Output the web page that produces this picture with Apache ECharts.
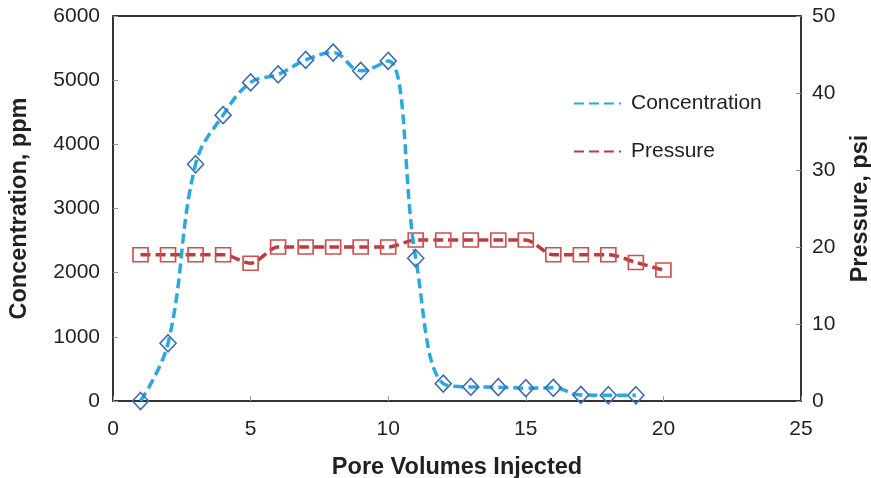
<!DOCTYPE html>
<html><head><meta charset="utf-8">
<script src="https://cdn.jsdelivr.net/npm/echarts@6/dist/echarts.min.js"></script>
<style>html,body{margin:0;padding:0;background:#fff;overflow:hidden}#c{width:871px;height:478px}</style>
</head><body><div id="c"></div>
<script>
const poreVolumes = [1,2,3,4,5,6,7,8,9,10,11,12,13,14,15,16,17,18,19,20];
const concentration = [0,900,3690,4455,4965,5090,5315,5430,5145,5300,2225,270,220,215,200,205,95,90,90];
const pressure = [19,19,19,19,17.9,20,20,20,20,20,20.9,20.9,20.9,20.9,20.9,19,19,19,18,17];

const concData = concentration.map((v,i)=>[poreVolumes[i],v]);
const presData = pressure.map((v,i)=>[poreVolumes[i],v]);

const font = 'Liberation Sans, Arial, Helvetica, sans-serif';
const txt = '#231f20';
const plain = v => String(v);
const chart = echarts.init(document.getElementById('c'));
chart.setOption({
  animation:false,
  textStyle:{fontFamily:font},
  grid:{left:113,right:70,top:16,bottom:77,containLabel:false,outerBoundsMode:'none',show:false},
  legend:{
    orient:'vertical', left:568, top:88, itemGap:27, itemWidth:47, itemHeight:20,
    textStyle:{fontSize:21,color:txt,fontFamily:font,padding:[0,0,0,5]},
    itemStyle:{opacity:0},
    data:['Concentration','Pressure']
  },
  xAxis:{
    type:'value',min:0,max:25,interval:5,
    name:'Pore Volumes Injected',nameLocation:'middle',nameGap:55,
    nameTextStyle:{fontSize:23.5,fontWeight:'bold',color:txt,fontFamily:font},
    axisLine:{lineStyle:{color:'#333',width:2}},
    axisTick:{inside:true,length:5,lineStyle:{color:'#999'}},
    axisLabel:{fontSize:21,color:txt,margin:18,fontFamily:font,formatter:plain},
    splitLine:{show:false}
  },
  yAxis:[{
    type:'value',min:0,max:6000,interval:1000,position:'left',
    name:'Concentration, ppm',nameLocation:'middle',nameGap:81,nameRotate:90,
    nameTextStyle:{fontSize:23.5,fontWeight:'bold',color:txt,fontFamily:font},
    axisLine:{show:true,lineStyle:{color:'#333',width:2}},
    axisTick:{show:true,inside:true,length:5,lineStyle:{color:'#999'}},
    axisLabel:{fontSize:21,color:txt,margin:13,fontFamily:font,formatter:plain},
    splitLine:{show:false}
  },{
    type:'value',min:0,max:50,interval:10,position:'right',
    name:'Pressure, psi',nameLocation:'middle',nameGap:48,nameRotate:90,
    nameTextStyle:{fontSize:23.5,fontWeight:'bold',color:txt,fontFamily:font},
    axisLine:{show:true,lineStyle:{color:'#333',width:2}},
    axisTick:{show:true,inside:true,length:5,lineStyle:{color:'#999'}},
    axisLabel:{fontSize:21,color:txt,margin:11,fontFamily:font,formatter:plain},
    splitLine:{show:false}
  }],
  graphic:[],
  series:[{
    name:'Concentration',type:'line',yAxisIndex:0,data:concData,smooth:0.4,
    symbol:'diamond',symbolSize:[16,17],
    lineStyle:{color:'#29a9e0',width:3.5,type:[10,5]},
    itemStyle:{color:'rgba(255,255,255,0)',borderColor:'#3d6db6',borderWidth:1.6},
    color:'#29a9e0',z:3
  },{
    name:'Pressure',type:'line',yAxisIndex:1,data:presData,smooth:0.3,
    symbol:'rect',symbolSize:[15,14],
    lineStyle:{color:'#c0393d',width:3.5,type:[10,5]},
    itemStyle:{color:'rgba(255,255,255,0)',borderColor:'#cf4e4e',borderWidth:1.6},
    color:'#c0393d',z:2
  }]
});
// top border of plot frame
const r = chart.getModel().getComponent('grid').coordinateSystem.getRect();
chart.setOption({graphic:[{type:'line',shape:{x1:r.x,y1:r.y,x2:r.x+r.width,y2:r.y},style:{stroke:'#333',lineWidth:2},silent:true}]});
</script></body></html>
